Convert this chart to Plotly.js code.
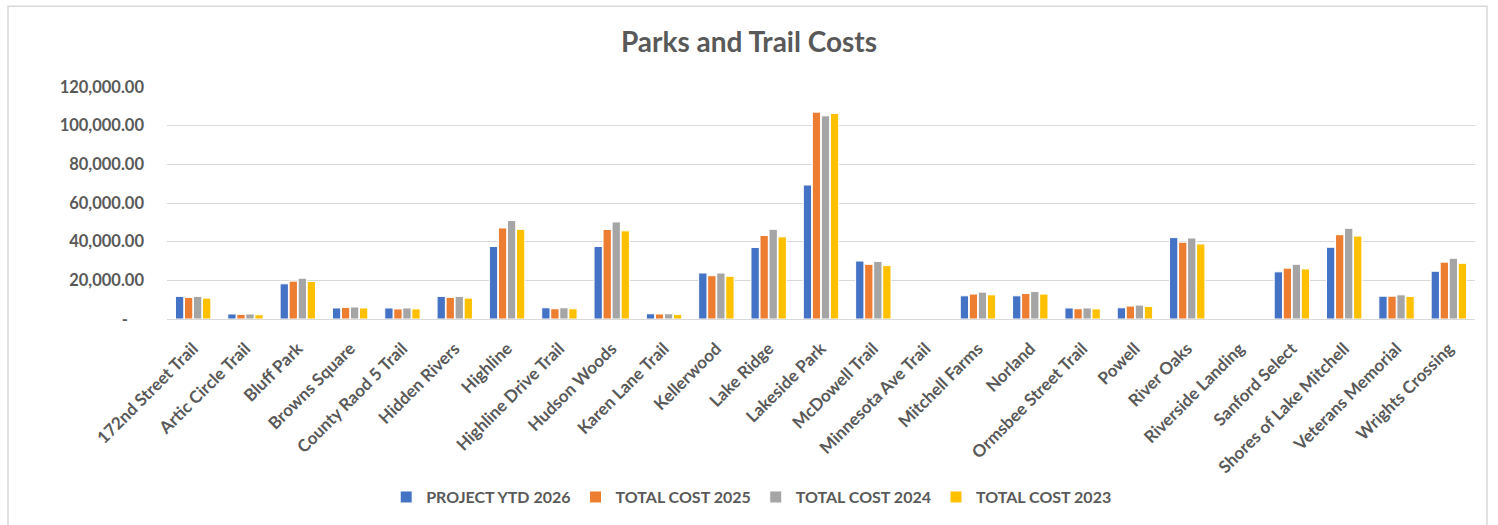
<!DOCTYPE html>
<html>
<head>
<meta charset="utf-8">
<script src="https://cdn.plot.ly/plotly-3.0.1.min.js"></script>
<style>html,body{margin:0;padding:0;background:#fff;}#chart{width:1498px;height:525px;}</style>
</head>
<body>
<div id="chart"></div>
<script>
var categories = ["172nd Street Trail","Artic Circle Trail","Bluff Park","Browns Square","County Raod 5 Trail","Hidden Rivers","Highline","Highline Drive Trail","Hudson Woods","Karen Lane Trail","Kellerwood","Lake Ridge","Lakeside Park","McDowell Trail","Minnesota Ave Trail","Mitchell Farms","Norland","Ormsbee Street Trail","Powell","River Oaks","Riverside Landing","Sanford Select","Shores of Lake Mitchell","Veterans Memorial","Wrights Crossing"];
var seriesNames = ["PROJECT YTD 2026","TOTAL COST 2025","TOTAL COST 2024","TOTAL COST 2023"];
var ytd2026 = [11700,2600,18200,5700,5700,11700,37500,5800,37500,2700,23800,37000,69300,30000,0,12000,12000,5700,5800,42100,0,24400,37100,11800,24700];
var cost2025 = [11200,2400,19600,6000,5200,11200,47100,5300,46300,2600,22400,43200,107000,28300,0,12900,13200,5300,6700,39700,0,26300,43600,11800,29400];
var cost2024 = [11700,2600,21100,6200,5700,11700,50900,5800,50200,2700,23800,46400,105100,29800,0,13900,14200,5700,7200,41900,0,28300,46900,12500,31400];
var cost2023 = [10800,2200,19400,5700,5200,10800,46400,5300,45600,2400,22100,42500,106300,27600,0,12500,12900,5200,6500,38800,0,25900,42900,11700,28800];
var tickVals = [0,20000,40000,60000,80000,100000,120000];
var tickText = ["-\u00a0\u00a0\u00a0\u00a0","20,000.00","40,000.00","60,000.00","80,000.00","100,000.00","120,000.00"];

var colors = ["#4472C4","#ED7D31","#A5A5A5","#FFC000"];
var allSeries = [ytd2026, cost2025, cost2024, cost2023];
var font = "Lato, 'Open Sans', sans-serif";
var traces = allSeries.map(function(vals, i){
  return {type:"bar", name:seriesNames[i], x:categories, y:vals,
    marker:{color:colors[i], line:{color:"#ffffff", width:1}}};
});
var layout = {
  width:1498, height:525,
  margin:{l:167, r:23, t:87, b:205},
  paper_bgcolor:"#ffffff", plot_bgcolor:"#ffffff",
  title:{text:"<b>Parks and Trail Costs</b>", font:{family:font, size:28, color:"#595959"}, x:0.5, xanchor:"center", y:0.92, yanchor:"middle"},
  barmode:"group", bargap:0.31, bargroupgap:0.08,
  showlegend:true,
  legend:{orientation:"h", x:0.447, xanchor:"center", y:-0.76, yanchor:"middle", font:{family:font, size:16, color:"#595959", weight:"bold"}, itemwidth:30, traceorder:"normal"},
  xaxis:{type:"category", tickangle:-45, tickfont:{family:font, size:17, color:"#595959", weight:"bold"}, showgrid:false, showline:true, linecolor:"#d9d9d9", linewidth:1, ticks:"", ticklabelstandoff:12, automargin:false},
  yaxis:{range:[0,120000], tickvals:tickVals, ticktext:tickText, tickfont:{family:font, size:16.5, color:"#595959", weight:"bold"}, showgrid:true, gridcolor:"#d9d9d9", gridwidth:1, zeroline:false, ticks:"", ticklabelstandoff:22, automargin:false},
  shapes:[{type:"rect", xref:"paper", yref:"paper", x0:(8-167)/1308, x1:(1487-167)/1308, y0:(320-530)/233, y1:(320-6)/233, line:{color:"#d9d9d9", width:1.5}, fillcolor:"rgba(0,0,0,0)", layer:"below"}],
  font:{family:font}
};
Plotly.newPlot("chart", traces, layout, {displayModeBar:false, staticPlot:true});
</script>
</body>
</html>
